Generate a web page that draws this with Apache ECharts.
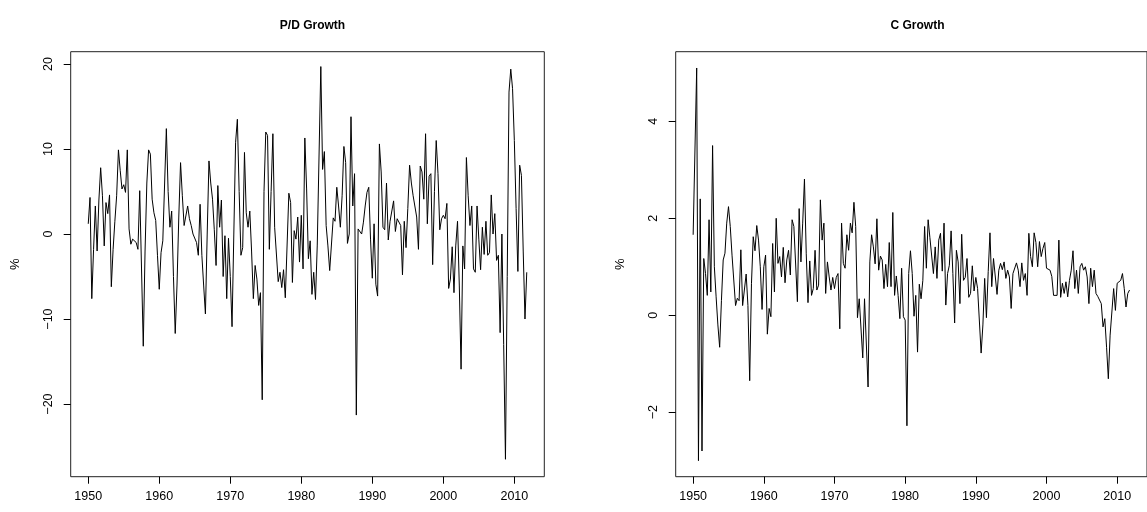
<!DOCTYPE html>
<html>
<head>
<meta charset="utf-8">
<script src="https://cdn.jsdelivr.net/npm/echarts@6/dist/echarts.min.js"></script>
<style>
html,body{margin:0;padding:0;background:#fff;}
#chart{width:1147px;height:512px;}
</style>
</head>
<body>
<div id="chart"></div>
<script>
// Quarterly observations, first quarter = 1950.00, step = 0.25 year
const startYear = 1950;
const titles = ['P/D Growth', 'C Growth'];
const yName = '%';
const xTicks = [1950, 1960, 1970, 1980, 1990, 2000, 2010];
const pdTicks = [-20, -10, 0, 10, 20];
const cTicks = [-2, 0, 2, 4];

const pdGrowth = [
  1.2, 4.3, -7.6, -1.8, 3.3, -2.0, 4.0, 7.8, 4.5, -1.4,
  3.7, 2.4, 4.6, -6.2, -1.8, 1.5, 4.5, 9.9, 7.5, 5.3,
  5.8, 4.9, 9.9, 0.6, -1.2, -0.6, -0.5, -1.0, -1.8, 5.1,
  -4.0, -13.2, -2.0, 6.0, 9.9, 9.4, 4.1, 2.5, 1.6, -2.5,
  -6.5, -2.2, -0.8, -0.6, 12.4, 5.0, 0.8, 2.7, -5.0, -11.7,
  -6.0, 2.0, 8.4, 4.5, 1.0, 1.2, 3.3, 1.8, 1.0, 0.0,
  0.0, -1.0, -2.5, 3.5, -2.5, -6.0, -9.4, 0.0, 8.6, 6.0,
  4.1, 0.5, -3.7, 5.7, 0.8, 4.0, -5.0, -0.2, -7.6, -0.5,
  -5.0, -10.9, 0.0, 10.8, 13.5, 5.0, -2.5, -1.6, 9.6, 2.5,
  0.8, 2.7, -2.0, -7.6, -3.7, -5.3, -8.4, -6.9, -19.5, 5.0,
  12.0, 11.6, -1.8, 5.0, 11.8, 0.8, 0.6, -5.6, -4.5, -6.3,
  -4.2, -7.5, -7.6, 4.8, 3.7, -5.7, 0.4, -0.6, 2.0, -3.3,
  2.2, -4.1, 11.3, 5.3, -2.9, -0.8, -7.1, -4.5, -7.7, -1.3,
  -1.1, 19.7, 7.6, 9.7, 1.0, -1.4, -4.3, -4.3, 1.9, 1.5,
  5.5, 3.3, 0.8, 4.5, 10.3, 8.4, -1.1, 0.0, 13.8, 3.3,
  7.1, -21.3, 0.6, 0.5, 0.0, 1.4, 3.3, 4.9, 5.5, -0.6,
  -5.2, 1.2, -5.9, -7.3, 10.6, 7.3, 0.8, 0.5, 6.0, -0.7,
  1.5, 1.5, 3.9, 0.3, 1.8, 2.0, 1.0, -4.8, 1.5, -1.6,
  3.0, 8.1, 6.0, 4.5, 4.4, 2.0, -1.8, 8.0, 7.3, 4.1,
  11.8, 1.2, 6.8, 7.1, -3.6, 5.0, 11.0, 7.1, 0.5, 1.8,
  2.2, 1.8, 3.6, -6.4, -5.3, -1.5, -6.9, -1.4, 1.5, -6.0,
  -15.9, -1.4, -4.1, 9.0, 4.5, 1.0, 3.3, -4.1, -4.5, 3.3,
  -0.6, -4.2, 0.8, -2.4, 1.5, -2.5, -2.2, 4.6, 0.0, 2.4,
  -3.1, -2.5, -11.6, 0.0, -13.0, -26.5, -5.0, 16.7, 19.4, 17.1,
  11.0, 3.0, -4.4, 8.1, 6.9, -2.0, -10.0, -4.5
];

const cGrowth = [
  1.66, 1.66, 5.1, -3.0, 2.4, -2.8, 1.17, 0.86, 0.41, 1.97,
  0.48, 3.5, 1.0, 0.38, -0.2, -0.66, 0.3, 1.14, 1.28, 1.9,
  2.24, 1.83, 1.24, 1.24, 0.2, 0.35, 0.3, 1.35, 0.2, 0.2,
  0.85, 0.2, -1.35, 0.65, 1.62, 1.33, 1.85, 1.55, 1.0, 0.12,
  1.0, 1.24, -0.39, 0.14, -0.03, 1.48, 0.48, 2.0, 1.07, 1.21,
  0.79, 1.4, 0.67, 1.14, 1.34, 0.83, 1.97, 1.83, 1.85, 0.28,
  2.2, 1.1, 1.9, 2.81, 1.28, 0.26, 1.12, 0.41, 0.55, 1.34,
  0.52, 0.62, 2.38, 1.55, 1.9, 0.45, 1.1, 0.79, 0.52, 0.78,
  0.55, 0.78, 0.86, -0.28, 1.9, 1.07, 0.97, 1.66, 1.34, 1.9,
  1.7, 2.33, 1.83, -0.05, 0.34, 0.3, -0.88, 0.34, 0.38, -1.48,
  1.1, 1.66, 1.41, 1.06, 1.99, 0.93, 1.22, 1.14, 0.55, 1.05,
  0.59, 1.5, 0.59, 2.12, 0.41, 0.81, 0.41, -0.07, 0.97, -0.03,
  -0.10, -2.28, 0.86, 1.33, 0.86, -0.02, 0.41, -0.76, 0.64, 0.34,
  0.72, 1.83, 0.97, 1.97, 1.6, 1.59, 0.86, 1.41, 0.76, 1.55,
  1.69, 0.91, 1.9, 0.21, 0.86, 1.03, 1.74, 0.86, -0.16, 1.34,
  1.1, 0.24, 1.67, 0.72, 0.78, 1.17, 0.37, 0.45, 1.02, 0.5,
  0.78, 0.55, 0.55, -0.78, -0.2, 0.76, -0.05, 0.9, 1.7, 0.59,
  1.17, 1.21, 0.43, 0.93, 1.07, 0.94, 1.1, 0.76, 0.93, 0.79,
  0.14, 0.86, 0.83, 1.08, 0.93, 0.59, 1.08, 0.72, 0.86, 0.41,
  1.69, 1.21, 1.0, 1.7, 1.5, 1.0, 1.52, 1.21, 1.38, 1.5,
  0.97, 0.97, 0.93, 0.8, 0.41, 0.38, 0.41, 1.55, 0.37, 0.66,
  0.45, 0.69, 0.38, 0.72, 0.93, 1.33, 0.55, 0.93, 0.45, 1.0,
  1.07, 0.93, 1.0, 0.79, 0.24, 0.97, 0.59, 0.93, 0.45, 0.39,
  0.38, 0.24, -0.24, -0.07, -0.66, -1.31, -0.41, -0.45, 0.55, 0.1,
  0.66, 0.69, 0.72, 0.86, 0.55, 0.17, 0.45, 0.52
];

function toPairs(arr) {
  return arr.map((v, i) => [startYear + i / 4, v]);
}

const FONT = 'Liberation Sans, Arial, Helvetica, sans-serif';
const chart = echarts.init(document.getElementById('chart'), null, {renderer: 'canvas'});

const xMin = 1947.53, xMax = 2014.22;

function xAxisDef(gi) {
  return {
    type: 'value', gridIndex: gi, min: xMin, max: xMax, position: 'bottom',
    axisLine: {show: false, onZero: false},
    axisTick: {show: true, length: 7, lineStyle: {color: '#000', width: 1}, customValues: xTicks},
    axisLabel: {show: true, margin: 13, color: '#000', fontSize: 12.5, fontFamily: FONT, customValues: xTicks,
      formatter: v => String(v)},
    splitLine: {show: false}
  };
}
function yAxisDef(gi, mn, mx, ticks) {
  return {
    type: 'value', gridIndex: gi, min: mn, max: mx, position: 'left',
    name: yName, nameLocation: 'middle', nameGap: 49, nameRotate: 90,
    nameTextStyle: {color: '#000', fontSize: 13, fontFamily: FONT},
    axisLine: {show: false, onZero: false},
    axisTick: {show: true, length: 7, lineStyle: {color: '#000', width: 1}, customValues: ticks},
    axisLabel: {show: true, rotate: 90, margin: 16, color: '#000', fontSize: 12.5, fontFamily: FONT, customValues: ticks,
      formatter: v => String(v).replace('-', '\u2212')},
    splitLine: {show: false}
  };
}

const option = {
  animation: false,
  backgroundColor: '#fff',
  title: [
    {text: titles[0], left: 307.5, top: 15, textAlign: 'center',
      textStyle: {fontSize: 12, fontWeight: 'bold', color: '#000', fontFamily: FONT}},
    {text: titles[1], left: 912.5, top: 15, textAlign: 'center',
      textStyle: {fontSize: 12, fontWeight: 'bold', color: '#000', fontFamily: FONT}}
  ],
  grid: [
    {left: 70.7, top: 51.7, width: 473.6, height: 425, show: true, borderColor: '#222', borderWidth: 1, backgroundColor: 'transparent'},
    {left: 675.7, top: 51.7, width: 473.6, height: 425, show: true, borderColor: '#222', borderWidth: 1, backgroundColor: 'transparent'}
  ],
  xAxis: [xAxisDef(0), xAxisDef(1)],
  yAxis: [yAxisDef(0, -28.55, 21.45, pdTicks), yAxisDef(1, -3.33, 5.436, cTicks)],
  series: [
    {type: 'line', xAxisIndex: 0, yAxisIndex: 0, data: toPairs(pdGrowth), showSymbol: false, symbol: 'none',
      lineStyle: {color: '#000', width: 1}, silent: true},
    {type: 'line', xAxisIndex: 1, yAxisIndex: 1, data: toPairs(cGrowth), showSymbol: false, symbol: 'none',
      lineStyle: {color: '#000', width: 1}, silent: true}
  ]
};
chart.setOption(option);
</script>
</body>
</html>
